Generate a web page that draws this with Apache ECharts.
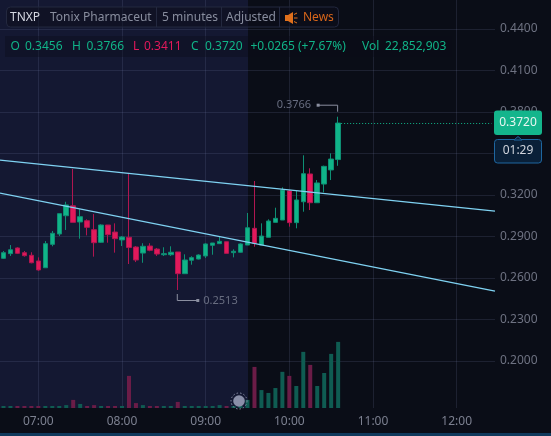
<!DOCTYPE html>
<html>
<head>
<meta charset="utf-8">
<style>
  html, body { margin: 0; padding: 0; background: #0a0d17; }
  #chart { width: 551px; height: 436px; }
</style>
<script src="https://cdn.jsdelivr.net/npm/echarts@6/dist/echarts.min.js"></script>
</head>
<body>
<div id="chart"></div>
<script>
const categories = [
  '06:35','06:40','06:45','06:50','06:55','07:00','07:05','07:10','07:15','07:20','07:25','07:30',
  '07:35','07:40','07:45','07:50','07:55','08:00','08:05','08:10','08:15','08:20','08:25','08:30',
  '08:35','08:40','08:45','08:50','08:55','09:00','09:05','09:10','09:15','09:20','09:25','09:30',
  '09:35','09:40','09:45','09:50','09:55','10:00','10:05','10:10','10:15','10:20','10:25','10:30',
  '10:35','10:40','10:45','10:50','10:55','11:00','11:05','11:10','11:15','11:20','11:25','11:30',
  '11:35','11:40','11:45','11:50','11:55','12:00','12:05','12:10','12:15','12:20','12:25'
]
const timeLabels = ['07:00','08:00','09:00','10:00','11:00','12:00']
const priceTicks = [0.20,0.23,0.26,0.29,0.32,0.35,0.38,0.41,0.44]

// open, close, low, high
const candles = [
  [0.2742,0.2783,0.2737,0.2795],[0.2776,0.2804,0.2759,0.2838],[0.2817,0.2778,0.2773,0.2822],
  [0.2783,0.2761,0.2754,0.2795],[0.2764,0.2710,0.2706,0.2786],[0.2723,0.2658,0.2652,0.2749],
  [0.2674,0.2848,0.2674,0.2867],[0.2843,0.2923,0.2829,0.2940],[0.2918,0.3065,0.2903,0.3065],
  [0.3050,0.3128,0.2947,0.3151],[0.3122,0.3002,0.3002,0.3388],[0.3005,0.3043,0.2884,0.3097],
  [0.3014,0.2966,0.2908,0.3024],[0.2949,0.2855,0.2754,0.3062],[0.2858,0.2983,0.2853,0.2988],
  [0.2983,0.2913,0.2855,0.2983],[0.2932,0.2884,0.2783,0.2995],[0.2875,0.2896,0.2831,0.2903],
  [0.2894,0.2820,0.2701,0.3355],[0.2824,0.2730,0.2715,0.2831],[0.2780,0.2829,0.2710,0.2851],
  [0.2831,0.2800,0.2793,0.2851],[0.2809,0.2773,0.2759,0.2817],[0.2768,0.2776,0.2759,0.2822],
  [0.2768,0.2786,0.2759,0.2829],[0.2788,0.2631,0.2513,0.2788],[0.2631,0.2730,0.2631,0.2771],
  [0.2728,0.2747,0.2696,0.2757],[0.2737,0.2766,0.2734,0.2771],[0.2759,0.2846,0.2744,0.2851],
  [0.2836,0.2853,0.2768,0.2853],[0.2848,0.2865,0.2848,0.2896],[0.2862,0.2778,0.2778,0.2862],
  [0.2783,0.2793,0.2749,0.2807],[0.2786,0.2846,0.2783,0.2851],[0.2838,0.2963,0.2838,0.3070],
  [0.2959,0.2851,0.2826,0.3301],[0.2838,0.2903,0.2838,0.2995],[0.2894,0.3012,0.2894,0.3024],
  [0.3002,0.3031,0.3002,0.3108],[0.3019,0.3236,0.3019,0.3255],[0.3229,0.3000,0.2971,0.3236],
  [0.3000,0.3164,0.2959,0.3229],[0.3151,0.3354,0.3079,0.3487],[0.3352,0.3144,0.3091,0.3393],
  [0.3144,0.3287,0.3144,0.3308],[0.3279,0.3407,0.3219,0.3412],[0.3381,0.3460,0.3308,0.3501],
  [0.3456,0.3720,0.3411,0.3766]
]
// volume in millions
const volumes = [
  0.7,0.7,0.7,0.7,0.7,0.7,0.7,0.7,0.7,1.0,2.8,1.4,0.7,1.0,0.7,0.7,0.7,0.7,
  11.1,1.7,1.0,0.7,0.7,0.7,0.7,2.1,0.7,0.7,0.7,0.7,0.7,1.0,0.7,0.7,0.7,2.8,
  14.2,6.2,5.2,6.9,12.5,11.1,7.6,19.4,14.9,7.6,12.1,18.7,22.85
]
const trendUpper = [0.3450,0.3086]
const trendLower = [0.3209,0.2510]
const highMark = [48,0.3766]
const lowMark = [25,0.2513]
const lastClose = 0.3720
const countdown = '01:29'

const upColor = '#10b488'
const downColor = '#e2195b'
const fontName = '"Noto Sans", sans-serif'

const chart = echarts.init(document.getElementById('chart'))

const renderTrend = (params, api) => {
  const a = api.coord([api.value(0), api.value(1)])
  const b = api.coord([api.value(2), api.value(3)])
  const half = api.size([1, 0])[0] / 2
  const slope = (b[1] - a[1]) / (b[0] - a[0])
  return {
    type: 'line',
    shape: { x1: a[0] - half, y1: a[1] - slope * half, x2: b[0] + half, y2: b[1] + slope * half },
    style: { stroke: '#7fd2f2', lineWidth: 1.3 }
  }
}

// 最高/最低价的引线
const renderLeader = (params, api) => {
  const p = api.coord([api.value(0), api.value(1)])
  const text = api.value(1).toFixed(4)
  const isHigh = params.dataIndex === 0
  const points = isHigh
    ? [[p[0] - 0.5, p[1] - 5], [p[0] - 0.5, p[1] - 11.5], [p[0] - 20, p[1] - 11.5]]
    : [[p[0] - 0.5, p[1] + 4], [p[0] - 0.5, p[1] + 10.5], [p[0] + 20, p[1] + 10.5]]
  const end = points[2]
  return {
    type: 'group',
    children: [
      { type: 'polyline', shape: { points }, style: { stroke: '#8b8fa0', lineWidth: 1, fill: null } },
      { type: 'rect', shape: { x: end[0] - 1.5, y: end[1] - 1.5, width: 3, height: 3 }, style: { fill: '#8b8fa0' } },
      {
        type: 'text',
        style: {
          x: isHigh ? end[0] - 7 : end[0] + 5.5, y: end[1], text,
          align: isHigh ? 'right' : 'left', verticalAlign: 'middle',
          fill: '#686d80', font: '11px ' + fontName
        }
      }
    ]
  }
}

chart.setOption({
  animation: false,
  backgroundColor: '#0a0d17',
  grid: { left: 0, top: 0, width: 495, height: 408 },
  xAxis: {
    type: 'category',
    data: categories,
    axisLine: { show: false },
    axisTick: { show: false },
    axisLabel: {
      interval: (i, v) => timeLabels.includes(v),
      color: '#7c8090', fontFamily: fontName, fontSize: 12, margin: 8
    },
    splitLine: {
      show: true,
      alignWithLabel: true,
      interval: (i, v) => timeLabels.includes(v),
      lineStyle: { color: 'rgba(125,135,175,0.17)', width: 1 }
    }
  },
  yAxis: [
    {
      type: 'value', position: 'right', min: 0.16599, max: 0.46097, scale: true,
      axisLine: { show: false },
      axisTick: { show: false, customValues: priceTicks },
      axisLabel: {
        customValues: priceTicks, margin: 5,
        formatter: (v) => v.toFixed(4),
        color: '#6e7282', fontFamily: fontName, fontSize: 12
      },
      splitLine: { show: true, lineStyle: { color: 'rgba(125,135,175,0.17)', width: 1 } }
    },
    { type: 'value', show: false, min: 0, max: 141, splitLine: { show: false } }
  ],
  series: [
    {
      type: 'bar',
      yAxisIndex: 1,
      barWidth: 4,
      data: volumes.map((v, i) => ({
        value: v,
        itemStyle: { color: candles[i][1] >= candles[i][0] ? '#0f5c52' : '#6b1c47' }
      }))
    },
    {
      type: 'candlestick',
      barWidth: 5,
      data: candles,
      itemStyle: {
        color: upColor, color0: downColor,
        borderColor: '#0e8f74', borderColor0: '#b01650', borderWidth: 1
      },
      markLine: {
        silent: true,
        symbol: 'none',
        label: { show: false },
        data: [[
          { coord: [candles.length - 1, lastClose], lineStyle: { color: upColor, type: [1, 2], width: 1 } },
          { coord: [categories.length - 1, lastClose] }
        ]]
      }
    },
    {
      type: 'custom',
      renderItem: renderTrend,
      clip: false,
      z: 5,
      encode: { x: [0, 2], y: [1, 3] },
      data: [
        [0, trendUpper[0], categories.length - 1, trendUpper[1]],
        [0, trendLower[0], categories.length - 1, trendLower[1]]
      ]
    },
    {
      type: 'custom',
      renderItem: renderLeader,
      clip: false,
      z: 6,
      encode: { x: 0, y: 1 },
      data: [highMark, lowMark]
    }
  ]
})

const sessionX = chart.convertToPixel({ xAxisIndex: 0 }, '09:30') + 0.5
const closeY = chart.convertToPixel({ yAxisIndex: 0 }, lastClose)

const label = (x, y, text, fill, size) => ({
  type: 'text', z: 30, x, y,
  style: { text, fill, font: (size || 12) + 'px ' + fontName, verticalAlign: 'middle' }
})
const divider = (x) => ({
  type: 'line', z: 30, shape: { x1: x, y1: 7, x2: x, y2: 27 }, style: { stroke: '#23283f', lineWidth: 1 }
})
const iconRay = (x1, y1, x2, y2) => ({
  type: 'line', z: 30, shape: { x1, y1, x2, y2 }, style: { stroke: '#e0701c', lineWidth: 1 }
})

chart.setOption({
  graphic: [
    { type: 'rect', z: -1, shape: { x: 0, y: 0, width: sessionX, height: 408 }, style: { fill: '#141832' } },
    { type: 'rect', z: 30, shape: { x: 0, y: 433, width: 551, height: 3 }, style: { fill: '#10395c' } },

    // 顶部信息栏
    { type: 'rect', z: 29, shape: { x: 6.5, y: 7, width: 332, height: 20, r: 4 }, style: { fill: 'rgba(12,15,28,0.55)', stroke: '#23283f', lineWidth: 1 } },
    divider(156.5), divider(221.5), divider(279.5),
    label(10, 18, 'TNXP', '#d5d8e2'),
    label(50, 18, 'Tonix Pharmaceut', '#888d9e'),
    label(162, 18, '5 minutes', '#888d9e'),
    label(226, 18, 'Adjusted', '#888d9e'),
    { type: 'polygon', z: 30, shape: { points: [[285, 15], [288, 15], [293, 12], [293, 24], [288, 21], [285, 21]] }, style: { fill: '#e0701c' } },
    iconRay(294, 14.5, 297, 13), iconRay(294, 18, 297.5, 18), iconRay(294, 21.5, 297, 23),
    label(303, 18, 'News', '#d8661a'),

    // OHLC
    { type: 'rect', z: 29, shape: { x: 5, y: 36, width: 447, height: 21 }, style: { fill: 'rgba(10,13,24,0.4)' } },
    label(10.5, 47, 'O', upColor),
    label(25, 47, '0.3456', upColor),
    label(72, 47, 'H', upColor),
    label(86.5, 47, '0.3766', upColor),
    label(133, 47, 'L', downColor),
    label(144, 47, '0.3411', downColor),
    label(191, 47, 'C', upColor),
    label(205, 47, '0.3720', upColor),
    label(250.5, 47, '+0.0265 (+7.67%)', upColor),
    label(362, 47, 'Vol', upColor),
    label(385, 47, '22,852,903', upColor),

    // 现价和倒计时
    { type: 'rect', z: 31, shape: { x: 494, y: closeY - 12.5, width: 48, height: 24.5, r: 3 }, style: { fill: '#14b58c' } },
    { type: 'text', z: 32, x: 518, y: closeY, style: { text: lastClose.toFixed(4), fill: '#e9f6f1', font: '12px ' + fontName, align: 'center', verticalAlign: 'middle' } },
    { type: 'rect', z: 31, shape: { x: 494.5, y: 139.5, width: 47, height: 23.5, r: 3 }, style: { fill: '#0a2038', stroke: '#1e66a0', lineWidth: 1 } },
    { type: 'polygon', z: 32, shape: { points: [[514, 140], [518, 136.5], [522, 140]] }, style: { fill: '#0a2038', stroke: '#1e66a0', lineWidth: 1 } },
    { type: 'text', z: 33, x: 518, y: 151, style: { text: countdown, fill: '#d0d4dc', font: '12px ' + fontName, align: 'center', verticalAlign: 'middle' } },

    // 事件标记
    { type: 'circle', z: 20, shape: { cx: 239, cy: 401, r: 8 }, style: { fill: null, stroke: '#8a8fa8', lineWidth: 1, lineDash: [1.5, 2] } },
    { type: 'circle', z: 20, shape: { cx: 239, cy: 401, r: 5.8 }, style: { fill: '#8a8fa8' } }
  ]
})
</script>
</body>
</html>
